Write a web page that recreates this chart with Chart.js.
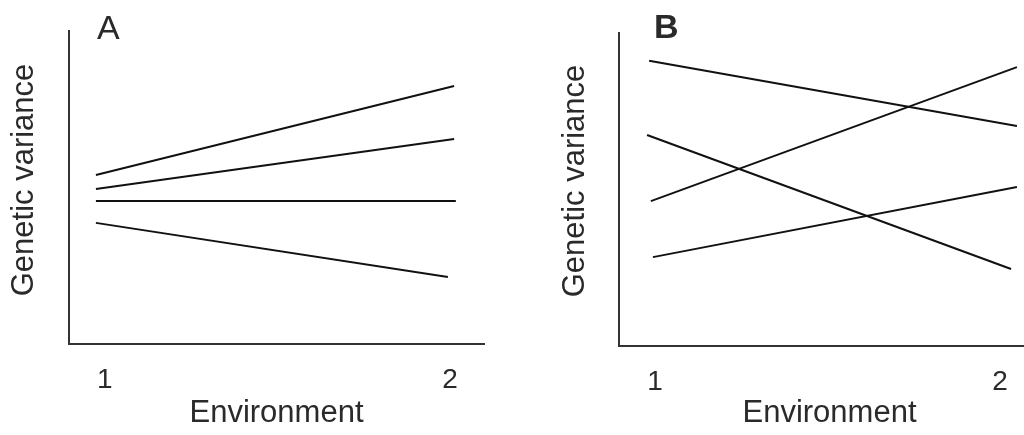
<!DOCTYPE html>
<html lang="en">
<head>
  <meta charset="UTF-8" />
  <title>Genetic variance across two environments</title>
  <script src="https://cdn.jsdelivr.net/npm/chart.js@4"></script>
  <style>
    html, body { margin: 0; padding: 0; background: #fff; overflow: hidden; width: 1024px; height: 435px; }
    .panel { position: absolute; top: 0; height: 435px; }
  </style>
</head>
<body>
  <div class="panel" style="left:0"><canvas id="chartA" width="512" height="435"></canvas></div>
  <!-- panel B runs past the right edge, as in the original figure -->
  <div class="panel" style="left:512px"><canvas id="chartB" width="528" height="435"></canvas></div>

  <script>
    // x in environment units, y in % of the axis height
    const envTicks   = [1, 2];
    const tickLabels = ['1', '2'];

    // panel A: start / end of each reaction line
    const aStartX = [0.974, 0.974, 0.974, 0.974];
    const aEndX   = [2.012, 2.012, 2.017, 1.994];
    const aStartY = [54.0, 49.5, 45.7, 38.7];
    const aEndY   = [82.4, 65.5, 45.7, 21.4];

    // panel B: crossing lines
    const bStartX = [0.983, 0.977, 0.988, 0.994];
    const bEndX   = [2.049, 2.032, 2.049, 2.049];
    const bStartY = [91.1, 67.4, 46.3, 28.4];
    const bEndY   = [70.3, 24.6, 89.1, 50.8];

    const FONT = "'Liberation Sans', Arial, sans-serif";
    const INK = '#2a2a2a';

    // panel letter + rotated y title
    const panelText = {
      id: 'panelText',
      afterDraw(chart, args, opts) {
        const ctx = chart.ctx;
        ctx.save();
        ctx.fillStyle = INK;
        ctx.font = (opts.weight || 'normal') + ' 34px ' + FONT;
        ctx.textBaseline = 'alphabetic';
        ctx.fillText(opts.text, opts.x, opts.y);

        ctx.font = '31px ' + FONT;
        ctx.translate(opts.yTitleX, opts.yTitleY);
        ctx.rotate(-Math.PI / 2);
        ctx.textAlign = 'center';
        ctx.textBaseline = 'middle';
        ctx.fillText('Genetic variance', 0, 0);
        ctx.restore();
      }
    };

    function lines(sx, ex, sy, ey) {
      return sx.map((x, i) => ({
        data: [{x: x, y: sy[i]}, {x: ex[i], y: ey[i]}],
        borderColor: '#111',
        borderWidth: 2,
        pointRadius: 0,
        fill: false
      }));
    }

    function makeChart(id, sets, cfg) {
      return new Chart(document.getElementById(id), {
        type: 'line',
        data: {datasets: sets},
        plugins: [panelText],
        options: {
          responsive: false,
          animation: false,
          devicePixelRatio: 1,
          layout: {padding: {top: cfg.top, right: cfg.right, left: 0, bottom: 0}},
          plugins: {
            legend: {display: false},
            tooltip: {enabled: false},
            panelText: cfg.label
          },
          scales: {
            x: {
              type: 'linear',
              min: cfg.xMin,
              max: cfg.xMax,
              afterBuildTicks: s => { s.ticks = envTicks.map(v => ({value: v})); },
              afterFit: s => { s.height = 435 - cfg.bottom; },
              grid: {display: false, drawTicks: false},
              border: {display: true, color: '#333', width: 2},
              ticks: {
                padding: 19,
                color: INK,
                font: {family: FONT, size: 28},
                callback: v => tickLabels[envTicks.indexOf(v)]
              },
              title: {
                display: true,
                text: 'Environment',
                color: INK,
                font: {family: FONT, size: 31},
                padding: {top: 0, bottom: 3}
              }
            },
            y: {
              min: 0,
              max: 100,
              afterFit: s => { s.width = cfg.left; },
              grid: {display: false, drawTicks: false},
              border: {display: true, color: '#333', width: 2},
              ticks: {display: false}
            }
          }
        }
      });
    }

    makeChart('chartA', lines(aStartX, aEndX, aStartY, aEndY), {
      top: 31, right: 28, left: 69, bottom: 344,
      xMin: 0.896, xMax: 2.0986,
      label: {text: 'A', x: 97, y: 39, weight: 'normal', yTitleX: 24, yTitleY: 180}
    });

    makeChart('chartB', lines(bStartX, bEndX, bStartY, bEndY), {
      top: 33, right: 0, left: 107, bottom: 346,
      xMin: 0.8957, xMax: 2.1159,
      label: {text: 'B', x: 142, y: 38, weight: 'bold', yTitleX: 63, yTitleY: 181}
    });
  </script>
</body>
</html>
